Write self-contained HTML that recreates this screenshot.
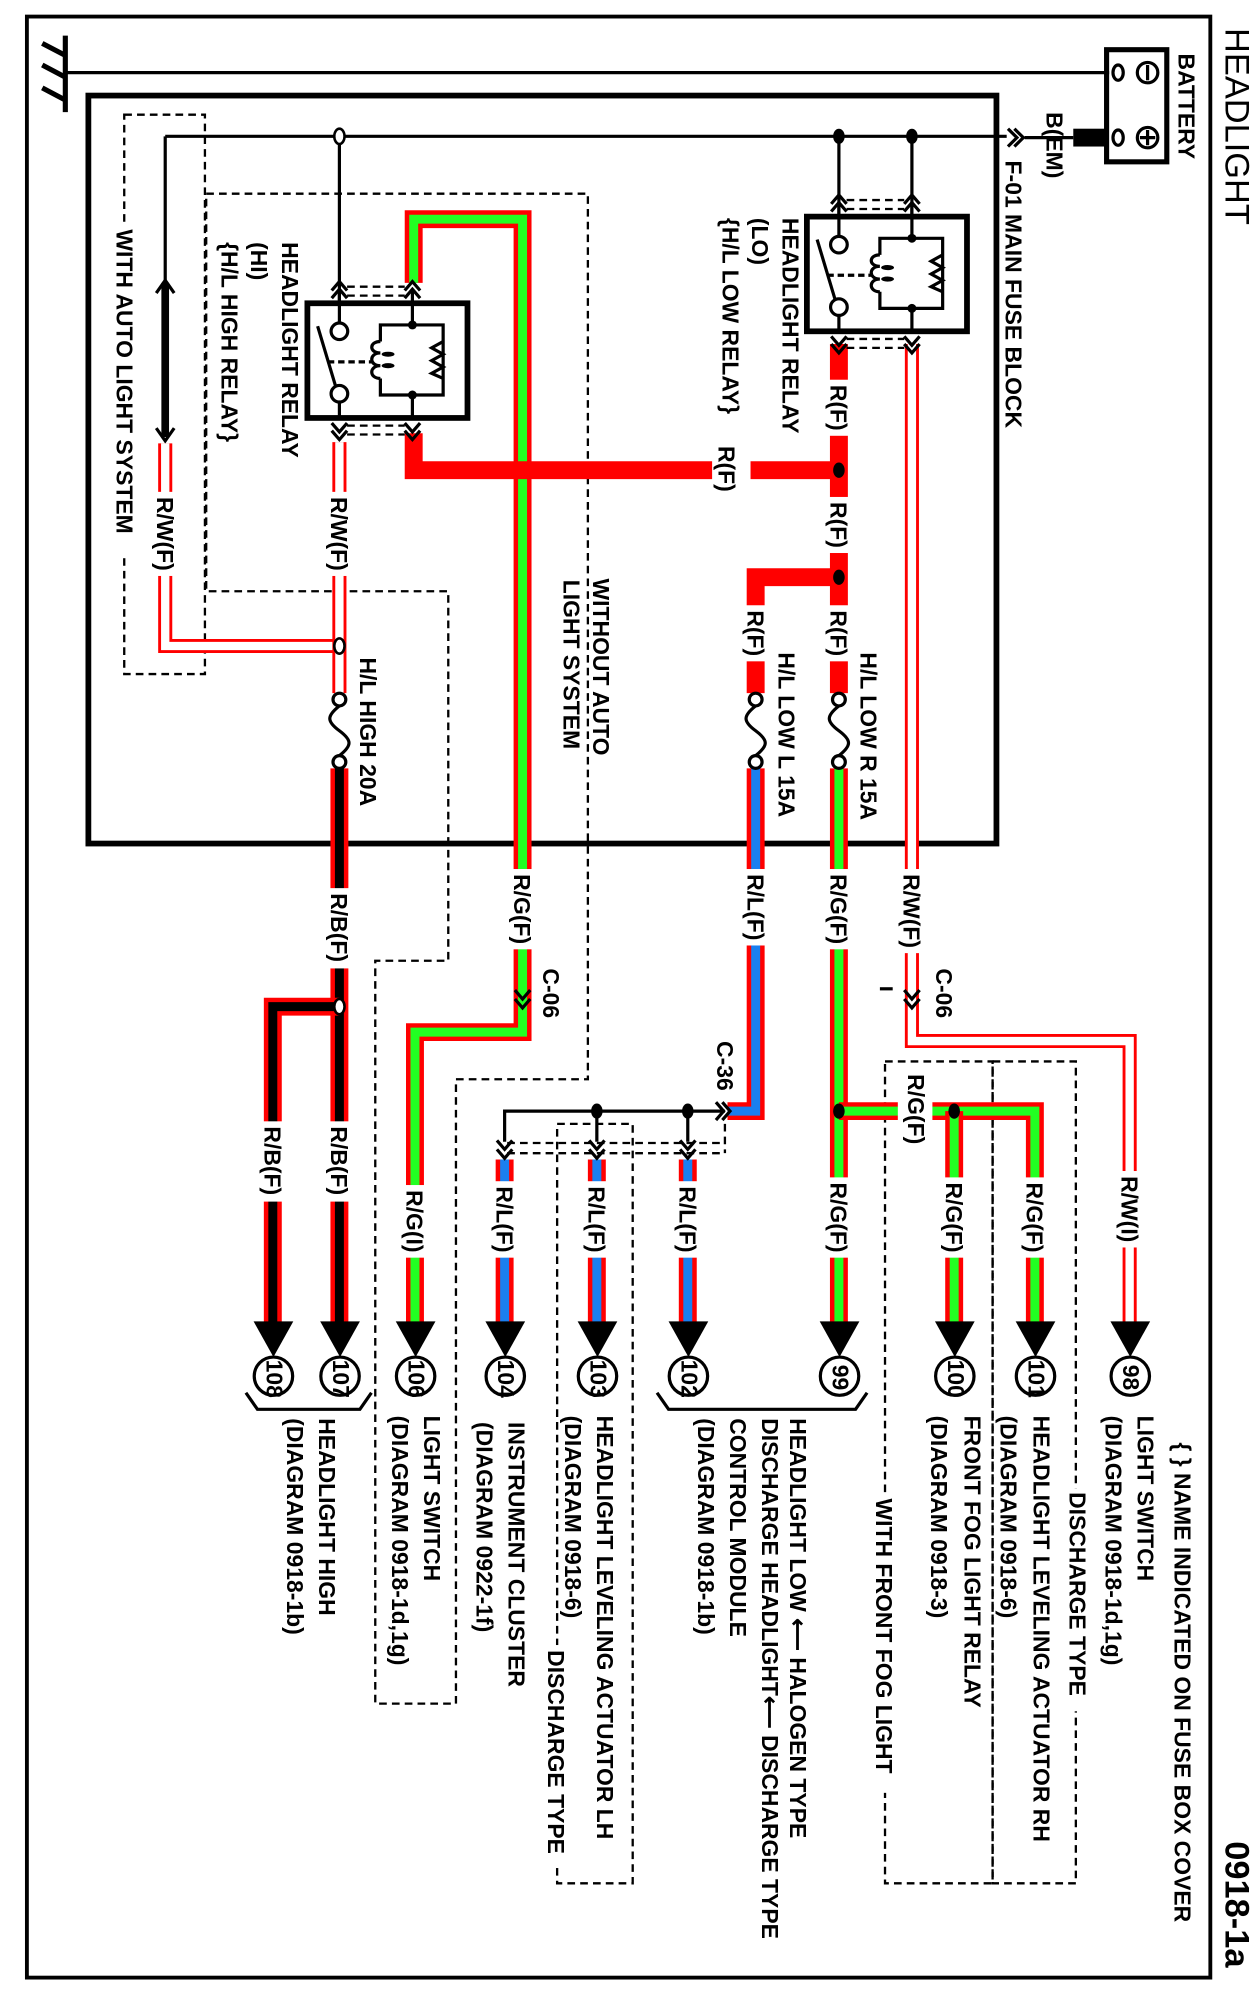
<!DOCTYPE html>
<html><head><meta charset="utf-8"><style>
html,body{margin:0;padding:0;background:#fff}
svg{display:block}
text{font-family:"Liberation Sans",Arial,sans-serif;font-weight:bold;font-size:18px;fill:#000}
.k{fill:none;stroke:#000;stroke-width:2.5}
.d{fill:none;stroke:#000;stroke-width:1.8;stroke-dasharray:6 4}
.ro{fill:none;stroke:#f00;stroke-width:14;stroke-linejoin:miter}
.rw{fill:none;stroke:#fff;stroke-width:6.5;stroke-linejoin:miter}
.rwo{fill:none;stroke:#f00;stroke-width:11;stroke-linejoin:miter}
.g{fill:none;stroke:#2f2;stroke-width:7;stroke-linejoin:miter}
.b{fill:none;stroke:#000;stroke-width:7;stroke-linejoin:miter}
.l{fill:none;stroke:#1a7ff0;stroke-width:7;stroke-linejoin:miter}
</style></head><body>
<svg width="1259" height="1998" viewBox="0 0 983 1568" preserveAspectRatio="none" xmlns="http://www.w3.org/2000/svg">
<rect x="21" y="13" width="924" height="1539" fill="none" stroke="#000" stroke-width="3"/>
<text transform="translate(957,22) rotate(90)" style="font-weight:normal;font-size:27px">HEADLIGHT</text>
<text transform="translate(957,1445) rotate(90)" style="font-size:27px">0918-1a</text>

<line x1="51" y1="28" x2="51" y2="88" stroke="#000" stroke-width="4"/>
<path d="M33,34 L50,43 M33,51 L50,60 M33,69 L50,78" stroke="#000" stroke-width="4" fill="none"/>
<line x1="51" y1="57" x2="866" y2="57" class="k" stroke-width="2"/>
<rect x="864" y="39" width="47" height="88" fill="none" stroke="#000" stroke-width="4"/>
<ellipse cx="873" cy="57" rx="4" ry="6" class="k" stroke-width="2"/>
<ellipse cx="873" cy="108" rx="4" ry="6" class="k" stroke-width="2"/>
<circle cx="896" cy="57" r="8" class="k" stroke-width="2"/><line x1="896" y1="51" x2="896" y2="63" class="k" stroke-width="2"/>
<circle cx="896" cy="108" r="8" class="k" stroke-width="2"/><path d="M896,102 V114 M890,108 H902" class="k" stroke-width="2"/>
<rect x="838" y="101" width="26" height="14" fill="#000"/>
<line x1="800" y1="108" x2="838" y2="108" class="k"/>
<text transform="translate(920,42) rotate(90)">BATTERY</text>
<text transform="translate(817,88) rotate(90)">B(EM)</text>
<path d="M787,101 L794,108 L787,115 M792,101 L799,108 L792,115" class="k"/>
<text transform="translate(785,126) rotate(90)">F-01  MAIN FUSE BLOCK</text>

<rect x="69" y="75" width="709" height="587" fill="none" stroke="#000" stroke-width="4.5"/>
<line x1="129" y1="107" x2="786" y2="107" class="k"/>

<rect x="97" y="90" width="63" height="439" class="d"/>
<path d="M161,152 H459 V847 H356 V1337 H293 V754 H350 V464 H161 Z" class="d"/>
<rect x="435" y="882" width="59" height="596" class="d"/>
<rect x="691" y="833" width="84" height="645" class="d"/>
<rect x="775" y="833" width="65" height="645" class="d"/>

<line x1="129" y1="107" x2="129" y2="222" class="k"/>
<line x1="129" y1="222" x2="129" y2="343" stroke="#000" stroke-width="6"/>
<path d="M122,230 L129,220 L136,230" class="k" stroke-width="3"/>
<path d="M122,336 L129,346 L136,336" class="k" stroke-width="3"/>
<path d="M129,348 V507 H265" class="rwo"/><path d="M129,348 V507 H265" class="rw"/>
<line x1="265" y1="107" x2="265" y2="258" class="k"/>
<path d="M265,347 V544" class="rwo"/><path d="M265,347 V544" class="rw"/>
<path d="M265,603 V1038" class="ro"/><path d="M265,603 V1038" class="b"/>
<path d="M265,790 H213 V1038" class="ro"/><path d="M265,790 H213 V1038" class="b"/>
<path d="M323,222 V172 H408 V810 H324 V1038" class="ro"/><path d="M323,222 V172 H408 V810 H324 V1038" class="g"/>
<path d="M323,340 V369 H655" class="ro"/>
<line x1="655" y1="107" x2="655" y2="190" class="k"/>
<line x1="712" y1="107" x2="712" y2="187" class="k"/>
<path d="M655,270 V544" class="ro"/>
<path d="M655,453 H590 V544" class="ro"/>
<path d="M655,603 V1038" class="ro"/><path d="M655,603 V1038" class="g"/>
<path d="M655,872 H808 V1038" class="ro"/><path d="M655,872 H808 V1038" class="g"/>
<path d="M745,872 V1038" class="ro"/><path d="M745,872 V1038" class="g"/>
<path d="M590,603 V872 H568" class="ro"/><path d="M590,603 V872 H568" class="l"/>
<path d="M712,270 V817 H882 V1038" class="rwo"/><path d="M712,270 V817 H882 V1038" class="rw"/>
<path d="M566,872 H394 V896 M466,872 V896 M537,872 V896" class="k"/>
<g>
<path d="M394,910 V1038" class="ro"/><path d="M394,910 V1038" class="l"/>
<path d="M466,910 V1038" class="ro"/><path d="M466,910 V1038" class="l"/>
<path d="M537,910 V1038" class="ro"/><path d="M537,910 V1038" class="l"/>
</g>
<path d="M396,897 H566 M396,905 H566" class="d"/>
<path d="M566,882 V905" class="d"/>

<ellipse cx="265" cy="107" rx="4" ry="6" fill="#fff" stroke="#000" stroke-width="2"/>
<ellipse cx="655" cy="107" rx="4.5" ry="6" fill="#000"/>
<ellipse cx="712" cy="107" rx="4.5" ry="6" fill="#000"/>
<ellipse cx="655" cy="369" rx="4.5" ry="6" fill="#000"/>
<ellipse cx="655" cy="453" rx="4.5" ry="6" fill="#000"/>
<ellipse cx="265" cy="507" rx="4" ry="6" fill="#fff" stroke="#000" stroke-width="2"/>
<ellipse cx="265" cy="790" rx="4" ry="6" fill="#fff" stroke="#000" stroke-width="2"/>
<ellipse cx="655" cy="872" rx="4.5" ry="6" fill="#000"/>
<ellipse cx="745" cy="872" rx="4.5" ry="6" fill="#000"/>
<ellipse cx="466" cy="872" rx="4.5" ry="6" fill="#000"/>
<ellipse cx="537" cy="872" rx="4.5" ry="6" fill="#000"/>

<g class="k" fill="#fff">
<circle cx="265" cy="549" r="5" fill="#fff"/><circle cx="265" cy="598" r="5" fill="#fff"/>
<circle cx="655" cy="549" r="5" fill="#fff"/><circle cx="655" cy="598" r="5" fill="#fff"/>
<circle cx="590" cy="549" r="5" fill="#fff"/><circle cx="590" cy="598" r="5" fill="#fff"/>
</g>
<path d="M265,554 C255,562 255,566 265,573.5 C275,581 275,585 265,593 M655,554 C645,562 645,566 655,573.5 C665,581 665,585 655,593 M590,554 C580,562 580,566 590,573.5 C600,581 600,585 590,593" class="k"/>

<g id="relay">
<rect x="630" y="170" width="125" height="90" fill="#fff" stroke="#000" stroke-width="4.5"/>
<line x1="655" y1="160" x2="655" y2="186" class="k"/>
<line x1="712" y1="160" x2="712" y2="187" class="k"/>
<circle cx="655" cy="192" r="6.5" fill="#fff" class="k"/>
<circle cx="655" cy="241" r="6.5" fill="#fff" class="k"/>
<line x1="655" y1="247" x2="655" y2="262" class="k"/>
<line x1="638" y1="188" x2="652" y2="235" class="k"/>
<line x1="646" y1="216" x2="680" y2="216" class="k" stroke-width="1.8" stroke-dasharray="5 3"/>
<path d="M687,200 V187 H736 V242 H687 V229" class="k" stroke-width="3"/>
<line x1="712" y1="242" x2="712" y2="262" class="k"/>
<circle cx="712" cy="187" r="3.5" fill="#000"/><circle cx="712" cy="242" r="3.5" fill="#000"/>
<path d="M687,200 c-9,0 -9,9 0,9 c-9,0 -9,10 0,10 c-9,0 -9,10 0,10" class="k"/>
<ellipse cx="693" cy="210" rx="5" ry="2" fill="#000"/><ellipse cx="693" cy="219" rx="5" ry="2" fill="#000"/>
<path d="M736,200 L727,205 L736,210 L727,215 L736,220 L727,225 L736,229" class="k"/>
<path d="M649,160 L655,153 L661,160 M649,166 L655,159 L661,166 M706,160 L712,153 L718,160 M706,166 L712,159 L718,166" class="k"/>
<path d="M661,157 H706 M661,164 H706" class="d"/>
<path d="M649,264 L655,271 L661,264 M649,270 L655,277 L661,270 M706,264 L712,271 L718,264 M706,270 L712,277 L718,270" class="k"/>
<path d="M661,266 H706 M661,273 H706" class="d"/>
</g>
<g transform="translate(-390,68)">
<rect x="630" y="170" width="125" height="90" fill="#fff" stroke="#000" stroke-width="4.5"/>
<line x1="655" y1="160" x2="655" y2="186" class="k"/>
<line x1="712" y1="160" x2="712" y2="187" class="k"/>
<circle cx="655" cy="192" r="6.5" fill="#fff" class="k"/>
<circle cx="655" cy="241" r="6.5" fill="#fff" class="k"/>
<line x1="655" y1="247" x2="655" y2="262" class="k"/>
<line x1="638" y1="188" x2="652" y2="235" class="k"/>
<line x1="646" y1="216" x2="680" y2="216" class="k" stroke-width="1.8" stroke-dasharray="5 3"/>
<path d="M687,200 V187 H736 V242 H687 V229" class="k" stroke-width="3"/>
<line x1="712" y1="242" x2="712" y2="262" class="k"/>
<circle cx="712" cy="187" r="3.5" fill="#000"/><circle cx="712" cy="242" r="3.5" fill="#000"/>
<path d="M687,200 c-9,0 -9,9 0,9 c-9,0 -9,10 0,10 c-9,0 -9,10 0,10" class="k"/>
<ellipse cx="693" cy="210" rx="5" ry="2" fill="#000"/><ellipse cx="693" cy="219" rx="5" ry="2" fill="#000"/>
<path d="M736,200 L727,205 L736,210 L727,215 L736,220 L727,225 L736,229" class="k"/>
<path d="M649,160 L655,153 L661,160 M649,166 L655,159 L661,166 M706,160 L712,153 L718,160 M706,166 L712,159 L718,166" class="k"/>
<path d="M661,157 H706 M661,164 H706" class="d"/>
<path d="M649,264 L655,271 L661,264 M649,270 L655,277 L661,270 M706,264 L712,271 L718,264 M706,270 L712,277 L718,270" class="k"/>
<path d="M661,266 H706 M661,273 H706" class="d"/>
</g>

<path d="M402,777 L408,784 L414,777 M402,784 L408,791 L414,784 M706,777 L712,784 L718,777 M706,784 L712,791 L718,784" class="k"/>
<path d="M388,895 L394,902 L400,895 M388,902 L394,909 L400,902 M460,895 L466,902 L472,895 M460,902 L466,909 L472,902 M531,895 L537,902 L543,895 M531,902 L537,909 L543,902" class="k"/>
<path d="M559,865 L565,872 L559,879 M564,865 L570,872 L564,879" class="k"/>
<line x1="687" y1="776" x2="697" y2="776" class="k"/>

<g fill="#fff">
<rect x="120" y="386" width="18" height="66"/>
<rect x="256" y="386" width="18" height="66"/>
<rect x="646" y="298" width="18" height="44"/>
<rect x="646" y="390" width="18" height="44"/>
<rect x="646" y="475" width="18" height="44"/>
<rect x="581" y="475" width="18" height="44"/>
<rect x="556" y="360" width="30" height="18"/>
<rect x="399" y="682" width="18" height="63"/>
<rect x="646" y="682" width="18" height="63"/>
<rect x="581" y="682" width="18" height="60"/>
<rect x="703" y="682" width="18" height="66"/>
<rect x="256" y="697" width="18" height="63"/>
<rect x="256" y="880" width="18" height="63"/>
<rect x="204" y="880" width="18" height="63"/>
<rect x="315" y="930" width="18" height="57"/>
<rect x="385" y="927" width="18" height="60"/>
<rect x="457" y="927" width="18" height="60"/>
<rect x="528" y="927" width="18" height="60"/>
<rect x="646" y="924" width="18" height="63"/>
<rect x="736" y="924" width="18" height="63"/>
<rect x="799" y="924" width="18" height="63"/>
<rect x="873" y="919" width="18" height="60"/>
<rect x="701" y="863" width="27" height="18"/>
</g>
<text transform="translate(122.5,390) rotate(90)">R/W(F)</text>
<text transform="translate(258.5,390) rotate(90)">R/W(F)</text>
<text transform="translate(648.5,302) rotate(90)">R(F)</text>
<text transform="translate(648.5,394) rotate(90)">R(F)</text>
<text transform="translate(648.5,479) rotate(90)">R(F)</text>
<text transform="translate(583.5,479) rotate(90)">R(F)</text>
<text transform="translate(561,350) rotate(90)">R(F)</text>
<text transform="translate(401.5,686) rotate(90)">R/G(F)</text>
<text transform="translate(648.5,686) rotate(90)">R/G(F)</text>
<text transform="translate(583.5,686) rotate(90)">R/L(F)</text>
<text transform="translate(705.5,686) rotate(90)">R/W(F)</text>
<text transform="translate(258.5,701) rotate(90)">R/B(F)</text>
<text transform="translate(258.5,884) rotate(90)">R/B(F)</text>
<text transform="translate(206.5,884) rotate(90)">R/B(F)</text>
<text transform="translate(317.5,934) rotate(90)">R/G(I)</text>
<text transform="translate(387.5,931) rotate(90)">R/L(F)</text>
<text transform="translate(459.5,931) rotate(90)">R/L(F)</text>
<text transform="translate(530.5,931) rotate(90)">R/L(F)</text>
<text transform="translate(648.5,928) rotate(90)">R/G(F)</text>
<text transform="translate(738.5,928) rotate(90)">R/G(F)</text>
<text transform="translate(801.5,928) rotate(90)">R/G(F)</text>
<text transform="translate(875.5,923) rotate(90)">R/W(I)</text>
<text transform="translate(709,843) rotate(90)">R/G(F)</text>
<text transform="translate(424,760) rotate(90)">C-06</text>
<text transform="translate(731,760) rotate(90)">C-06</text>
<text transform="translate(560,817) rotate(90)">C-36</text>
<text transform="translate(281,516) rotate(90)">H/L HIGH 20A</text>
<text transform="translate(672,512) rotate(90)">H/L LOW R 15A</text>
<text transform="translate(608,512) rotate(90)">H/L LOW L 15A</text>
<text transform="translate(463,454) rotate(90)">WITHOUT AUTO</text>
<text transform="translate(440,455) rotate(90)">LIGHT SYSTEM</text>
<rect x="89" y="176" width="18" height="262" fill="#fff"/>
<text transform="translate(91,180) rotate(90)">WITH AUTO LIGHT SYSTEM</text>
<text transform="translate(220,190) rotate(90)">HEADLIGHT RELAY</text>
<text transform="translate(196,190) rotate(90)">(HI)</text>
<text transform="translate(173,190) rotate(90)">{H/L HIGH RELAY}</text>
<text transform="translate(611,171) rotate(90)">HEADLIGHT RELAY</text>
<text transform="translate(587,171) rotate(90)">(LO)</text>
<text transform="translate(564,171) rotate(90)">{H/L LOW RELAY}</text>

<g fill="#000">
<path d="M198,1037 H229 L213.5,1065 Z"/><path d="M250,1037 H281 L265.5,1065 Z"/>
<path d="M309,1037 H340 L324.5,1065 Z"/><path d="M379,1037 H410 L394.5,1065 Z"/>
<path d="M451,1037 H482 L466.5,1065 Z"/><path d="M522,1037 H553 L537.5,1065 Z"/>
<path d="M640,1037 H671 L655.5,1065 Z"/><path d="M730,1037 H761 L745.5,1065 Z"/>
<path d="M793,1037 H824 L808.5,1065 Z"/><path d="M867,1037 H898 L882.5,1065 Z"/>
</g>
<g fill="#fff" stroke="#000" stroke-width="2.5">
<ellipse cx="213.5" cy="1080" rx="15" ry="15"/><ellipse cx="265.5" cy="1080" rx="15" ry="15"/>
<ellipse cx="324.5" cy="1080" rx="15" ry="15"/><ellipse cx="394.5" cy="1080" rx="15" ry="15"/>
<ellipse cx="466.5" cy="1080" rx="15" ry="15"/><ellipse cx="537.5" cy="1080" rx="15" ry="15"/>
<ellipse cx="655.5" cy="1080" rx="15" ry="15"/><ellipse cx="745.5" cy="1080" rx="15" ry="15"/>
<ellipse cx="808.5" cy="1080" rx="15" ry="15"/><ellipse cx="882.5" cy="1080" rx="15" ry="15"/>
</g>
<g style="font-weight:normal;font-size:15px">
<text transform="translate(208,1067) rotate(90)">108</text>
<text transform="translate(260,1067) rotate(90)">107</text>
<text transform="translate(319,1067) rotate(90)">106</text>
<text transform="translate(389,1067) rotate(90)">104</text>
<text transform="translate(461,1067) rotate(90)">103</text>
<text transform="translate(532,1067) rotate(90)">102</text>
<text transform="translate(650,1071) rotate(90)">99</text>
<text transform="translate(740,1067) rotate(90)">100</text>
<text transform="translate(803,1067) rotate(90)">101</text>
<text transform="translate(877,1071) rotate(90)">98</text>
</g>
<path d="M192,1093 L201,1106 H281 L290,1093" class="k" stroke-width="3"/>
<path d="M513,1093 L522,1106 H668 L677,1093" class="k" stroke-width="3"/>

<text transform="translate(917,1132) rotate(90)">{ } NAME INDICATED ON FUSE BOX COVER</text>
<text transform="translate(888,1111) rotate(90)">LIGHT SWITCH</text>
<text transform="translate(863,1111) rotate(90)">(DIAGRAM 0918-1d,1g)</text>
<rect x="832" y="1168" width="18" height="175" fill="#fff"/>
<text transform="translate(835,1171) rotate(90)">DISCHARGE TYPE</text>
<text transform="translate(807,1111) rotate(90)">HEADLIGHT LEVELING ACTUATOR RH</text>
<text transform="translate(781,1111) rotate(90)">(DIAGRAM 0918-6)</text>
<text transform="translate(753,1111) rotate(90)">FRONT FOG LIGHT RELAY</text>
<text transform="translate(727,1111) rotate(90)">(DIAGRAM 0918-3)</text>
<rect x="681" y="1172" width="18" height="235" fill="#fff"/>
<text transform="translate(684,1176) rotate(90)">WITH FRONT FOG LIGHT</text>
<text transform="translate(617,1113) rotate(90)">HEADLIGHT LOW ⟵ HALOGEN TYPE</text>
<text transform="translate(595,1113) rotate(90)">DISCHARGE HEADLIGHT⟵ DISCHARGE TYPE</text>
<text transform="translate(570,1113) rotate(90)">CONTROL MODULE</text>
<text transform="translate(545,1113) rotate(90)">(DIAGRAM 0918-1b)</text>
<text transform="translate(466,1111) rotate(90)">HEADLIGHT LEVELING ACTUATOR LH</text>
<text transform="translate(441,1111) rotate(90)">(DIAGRAM 0918-6)</text>
<rect x="426" y="1291" width="18" height="175" fill="#fff"/>
<text transform="translate(428,1295) rotate(90)">DISCHARGE TYPE</text>
<text transform="translate(397,1116) rotate(90)">INSTRUMENT CLUSTER</text>
<text transform="translate(372,1116) rotate(90)">(DIAGRAM 0922-1f)</text>
<text transform="translate(331,1111) rotate(90)">LIGHT SWITCH</text>
<text transform="translate(306,1111) rotate(90)">(DIAGRAM 0918-1d,1g)</text>
<text transform="translate(249,1113) rotate(90)">HEADLIGHT HIGH</text>
<text transform="translate(224,1113) rotate(90)">(DIAGRAM 0918-1b)</text>
</svg>
</body></html>
